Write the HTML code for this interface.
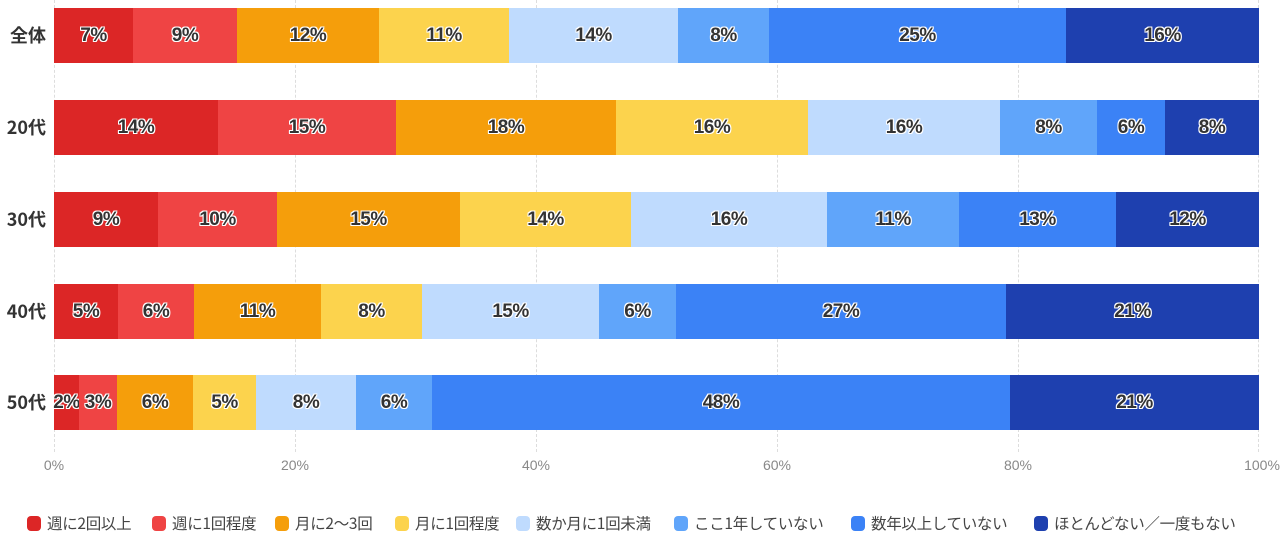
<!DOCTYPE html>
<html><head><meta charset="utf-8"><style>
body{margin:0;width:1286px;height:542px;background:#fff;position:relative;overflow:hidden;font-family:"Liberation Sans","Noto Sans CJK JP",sans-serif}
.g{position:absolute;top:0;height:452px;border-left:1px dashed #ddd}
.s{position:absolute;height:55px;display:flex;align-items:center;justify-content:center;font-weight:bold;font-size:19px;color:#333;letter-spacing:-0.5px;
text-shadow:-1px -1px 0 #fff,1px -1px 0 #fff,-1px 1px 0 #fff,1px 1px 0 #fff,0 1px 0 #fff,0 -1px 0 #fff,1px 0 0 #fff,-1px 0 0 #fff;white-space:nowrap}
.y{position:absolute;left:0;width:46px;text-align:right;font-weight:bold;font-size:18px;color:#333;font-family:"Noto Sans CJK JP",sans-serif}
.t{position:absolute;top:457px;font-size:14px;color:#888;transform:translateX(-50%)}
.lg span{position:absolute;top:512px;display:flex;align-items:center;font-size:15.5px;color:#444;font-family:"Noto Sans CJK JP",sans-serif;white-space:nowrap;letter-spacing:-0.3px}
.lg i{display:inline-block;width:14px;height:15px;border-radius:4px;margin-right:6px}
</style></head><body>
<div class="g" style="left:54px"></div><div class="g" style="left:295px"></div><div class="g" style="left:536px"></div><div class="g" style="left:777px"></div><div class="g" style="left:1018px"></div><div class="g" style="left:1258px"></div>
<div id="c"></div>
<div class="t" style="left:54px">0%</div><div class="t" style="left:295px">20%</div><div class="t" style="left:536px">40%</div><div class="t" style="left:777px">60%</div><div class="t" style="left:1018px">80%</div><div class="t" style="left:1262px">100%</div>
<div class="lg">
<span style="left:27px"><i style="background:#dc2626"></i>週に2回以上</span>
<span style="left:152px"><i style="background:#ef4444"></i>週に1回程度</span>
<span style="left:275px"><i style="background:#f59e0b"></i>月に2〜3回</span>
<span style="left:395px"><i style="background:#fcd34d"></i>月に1回程度</span>
<span style="left:516px"><i style="background:#bfdbfe"></i>数か月に1回未満</span>
<span style="left:674px"><i style="background:#60a5fa"></i>ここ1年していない</span>
<span style="left:851px"><i style="background:#3b82f6"></i>数年以上していない</span>
<span style="left:1034px"><i style="background:#1e40af"></i>ほとんどない／一度もない</span>
</div>
<script>
var cols=["#dc2626","#ef4444","#f59e0b","#fcd34d","#bfdbfe","#60a5fa","#3b82f6","#1e40af"];
var rows=[["全体",8,[54,133,237,379,509,678,769,1066,1259],[7,9,12,11,14,8,25,16]],
["20代",100,[54,218,396,616,808,1000,1097,1165,1259],[14,15,18,16,16,8,6,8]],
["30代",192,[54,158,277,460,631,827,959,1116,1259],[9,10,15,14,16,11,13,12]],
["40代",284,[54,118,194,321,422,599,676,1006,1259],[5,6,11,8,15,6,27,21]],
["50代",375,[54,79,117,193,256,356,432,1010,1259],[2,3,6,5,8,6,48,21]]];
var h="";
rows.forEach(function(r){
h+='<div class="y" style="top:'+(r[1]+14)+'px">'+r[0]+'</div>';
for(var i=0;i<8;i++){var x=r[2][i],w=r[2][i+1]-x;
h+='<div class="s" style="left:'+x+'px;top:'+r[1]+'px;width:'+w+'px;background:'+cols[i]+'">'+r[3][i]+'%</div>';}
});
document.getElementById("c").innerHTML=h;
</script>
</body></html>
